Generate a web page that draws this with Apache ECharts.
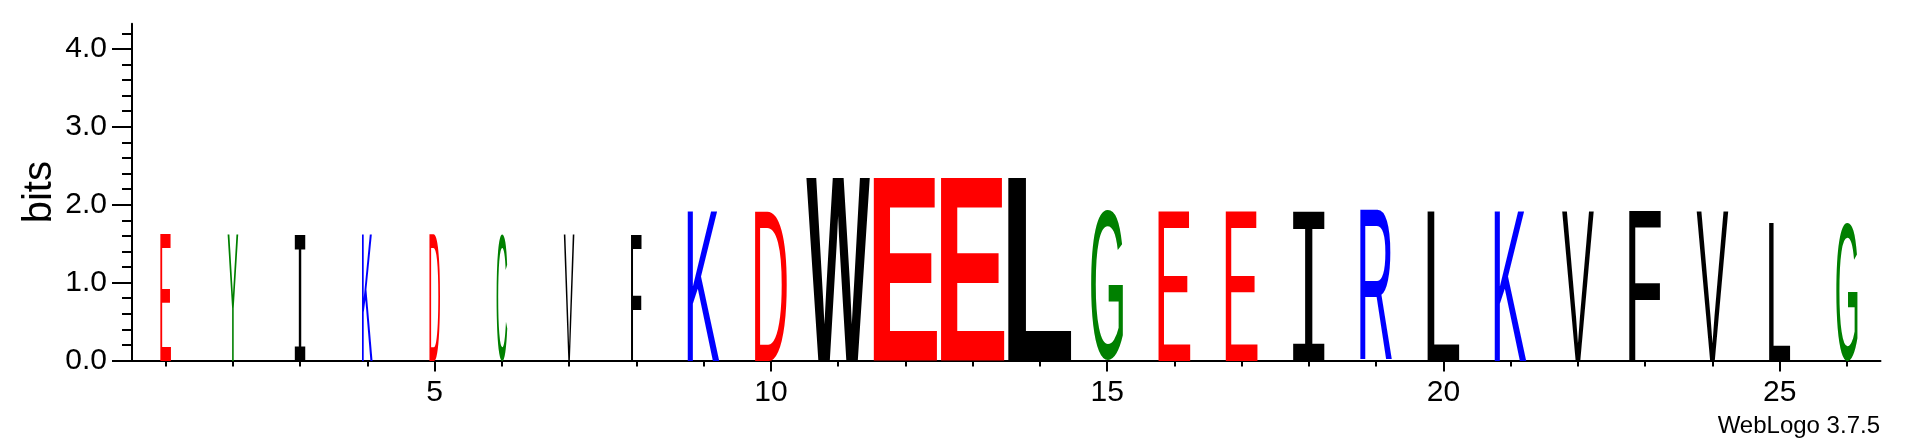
<!DOCTYPE html>
<html>
<head>
<meta charset="utf-8">
<script src="https://cdn.jsdelivr.net/npm/echarts@6/dist/echarts.min.js"></script>
<style>
  html, body { margin: 0; padding: 0; background: #fff; }
  #chart { width: 1906px; height: 444px; }
</style>
</head>
<body>
<div id="chart"></div>
<script>
// ---- data ----
const positions = ['1','2','3','4','5','6','7','8','9','10','11','12','13','14','15','16','17','18','19','20','21','22','23','24','25','26'];
const letters = ['E','Y','I','K','D','C','V','F','K','D','W','E','E','L','G','E','E','I','R','L','K','V','F','V','L','G'];
const bits = [1.63,1.63,1.63,1.63,1.63,1.63,1.63,1.63,1.93,1.93,2.35,2.35,2.35,2.35,1.93,1.93,1.93,1.93,1.93,1.93,1.93,1.93,1.93,1.93,1.77,1.77];
const widthFraction = [0.167,0.167,0.167,0.167,0.167,0.167,0.167,0.167,0.5,0.5,1,1,1,1,0.5,0.5,0.5,0.5,0.5,0.5,0.5,0.5,0.5,0.5,0.333,0.333];
const xTickLabels = ['5','10','15','20','25'];
const yTickLabels = ['0.0','1.0','2.0','3.0','4.0'];
const maxBits = Math.log2(20);

// ---- styling ----
const colorOf = {
  G:'#008000', S:'#008000', T:'#008000', Y:'#008000', C:'#008000',
  N:'#800080', Q:'#800080',
  K:'#0000ff', R:'#0000ff', H:'#0000ff',
  D:'#ff0000', E:'#ff0000',
  A:'#000000', V:'#000000', L:'#000000', I:'#000000', P:'#000000', W:'#000000', F:'#000000', M:'#000000'
};
function fontFor(ch, wide) {
  const weight = wide ? 'bold ' : '';
  return ch === 'I' ? weight + '200px "Liberation Mono"' : weight + '200px "Liberation Sans"';
}
const FULL = 0.945;
const metricsCache = {};
const mctx = document.createElement('canvas').getContext('2d');
function metrics(font, ch) {
  const key = font + '|' + ch;
  if (metricsCache[key]) return metricsCache[key];
  mctx.font = font;
  mctx.textAlign = 'left';
  mctx.textBaseline = 'middle';
  const t = mctx.measureText(ch);
  const m = { L: t.actualBoundingBoxLeft, R: t.actualBoundingBoxRight, A: t.actualBoundingBoxAscent, D: t.actualBoundingBoxDescent };
  metricsCache[key] = m;
  return m;
}

function renderItem(params, api) {
  const i = params.dataIndex;
  const idx = api.value(0);
  const h = api.value(1);
  const base = api.coord([idx, 0]);
  const top = api.coord([idx, h]);
  const band = api.size([1, 0])[0];
  const w = band * FULL * widthFraction[i];
  const x0 = base[0] - w / 2;
  const boxH = base[1] - top[1];
  const ch = letters[i];
  const font = fontFor(ch, widthFraction[i] >= 1);
  const m = metrics(font, ch);
  const sx = w / (m.L + m.R);
  const sy = boxH / (m.A + m.D);
  return {
    type: 'text',
    x: x0 + m.L * sx,
    y: top[1] + m.A * sy,
    scaleX: sx,
    scaleY: sy,
    style: { text: ch, font: font, fill: colorOf[ch] || '#000', align: 'left', verticalAlign: 'middle' }
  };
}

const chart = echarts.init(document.getElementById('chart'), null, { renderer: 'canvas' });
const LEFT = 132, RIGHT = 25.5, BOTTOM = 83.5, PX_PER_BIT = 77.9;
const y0px = 444 - BOTTOM;
const labelFont = { fontFamily: 'Liberation Sans', fontSize: 30, color: '#000' };
const black2 = { color: '#000', width: 2 };

const option = {
  animation: false,
  backgroundColor: '#fff',
  textStyle: { fontFamily: 'Liberation Sans' },
  grid: [
    { left: LEFT, right: RIGHT, bottom: BOTTOM, top: y0px - maxBits * PX_PER_BIT, containLabel: false, outerBoundsMode: 'none' },
    { left: LEFT, right: RIGHT, bottom: BOTTOM, top: y0px - 4 * PX_PER_BIT, containLabel: false, outerBoundsMode: 'none' },
    { left: LEFT, right: RIGHT, bottom: BOTTOM, top: y0px - 4.2 * PX_PER_BIT, containLabel: false, outerBoundsMode: 'none' }
  ],
  xAxis: [
    {
      gridIndex: 0, type: 'category', data: positions, boundaryGap: true,
      axisLine: { show: true, lineStyle: black2 },
      axisTick: { show: true, alignWithLabel: true, interval: 0, length: 6, lineStyle: black2 },
      axisLabel: {
        show: true, margin: 17, ...labelFont,
        interval: (idx, val) => xTickLabels.indexOf(val) >= 0
      },
      splitLine: { show: false }
    },
    {
      gridIndex: 1, type: 'category', data: positions, boundaryGap: true,
      axisLine: { show: false },
      axisTick: { show: true, alignWithLabel: true, length: 11, lineStyle: black2,
        interval: (idx, val) => xTickLabels.indexOf(val) >= 0 },
      axisLabel: { show: false },
      splitLine: { show: false }
    },
    { gridIndex: 2, type: 'category', data: positions, show: false }
  ],
  yAxis: [
    {
      gridIndex: 0, type: 'value', min: 0, max: maxBits,
      axisLine: { show: true, lineStyle: black2 },
      axisTick: { show: false }, axisLabel: { show: false }, splitLine: { show: false },
      name: 'bits', nameLocation: 'middle', nameRotate: 90, nameGap: 72,
      nameTextStyle: { fontFamily: 'Liberation Sans', fontSize: 40, color: '#000' }
    },
    {
      gridIndex: 1, type: 'value', min: 0, max: 4, interval: 1,
      axisLine: { show: false },
      axisTick: { show: true, length: 20, lineStyle: black2 },
      axisLabel: { show: true, margin: 25, ...labelFont, formatter: (v) => yTickLabels[Math.round(v)] },
      splitLine: { show: false }
    },
    {
      gridIndex: 2, type: 'value', min: 0, max: 4.2, interval: 0.2,
      axisLine: { show: false },
      axisTick: { show: true, length: 10, lineStyle: black2 },
      axisLabel: { show: false },
      splitLine: { show: false }
    }
  ],
  graphic: [
    {
      type: 'text', right: 26, top: 414,
      style: { text: 'WebLogo 3.7.5', font: '24px "Liberation Sans"', fill: '#000' }
    }
  ],
  series: [
    {
      type: 'custom', xAxisIndex: 0, yAxisIndex: 0,
      renderItem: renderItem,
      data: bits.map((b, i) => [i, b]),
      clip: false, z: 5
    }
  ]
};
chart.setOption(option);
</script>
</body>
</html>
